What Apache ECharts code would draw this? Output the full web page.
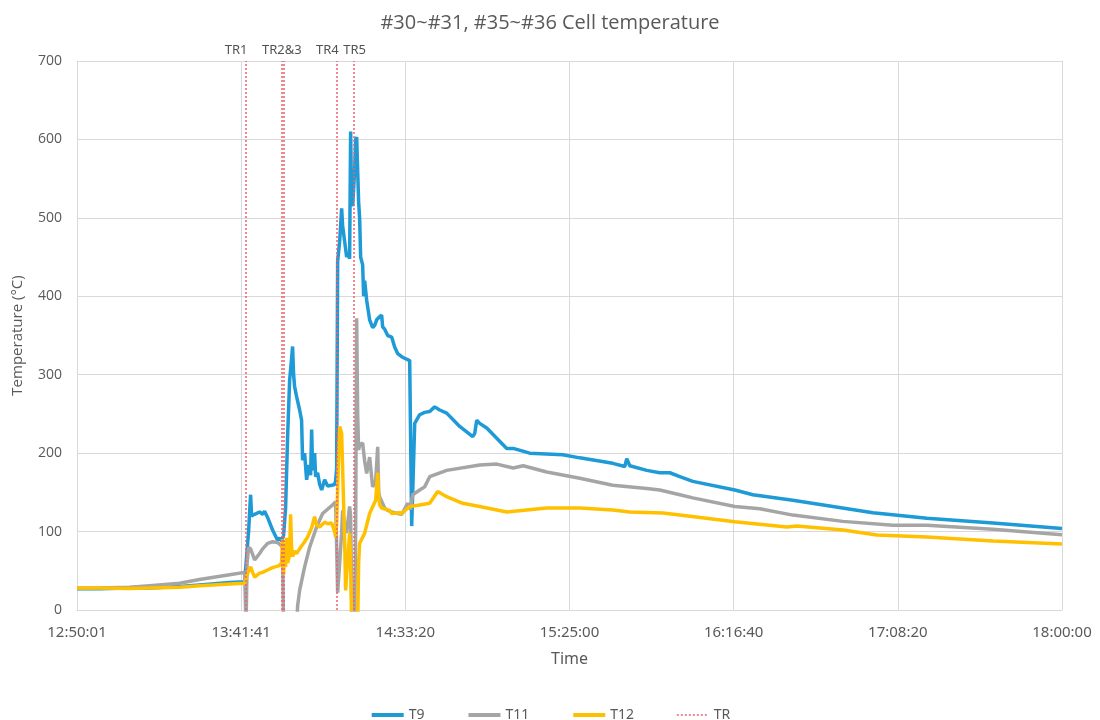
<!DOCTYPE html>
<html>
<head>
<meta charset="utf-8">
<script src="https://cdn.jsdelivr.net/npm/echarts@6/dist/echarts.min.js"></script>
<style>
  html, body { margin: 0; padding: 0; background: #ffffff; }
  #chart { width: 1100px; height: 720px; }
</style>
</head>
<body>
<div id="chart"></div>
<script>
// Elapsed time in seconds since 12:50:01, temperature in °C.
const xTickLabels = ['12:50:01', '13:41:41', '14:33:20', '15:25:00', '16:16:40', '17:08:20', '18:00:00'];

const t9 = [
  [0, 27], [425, 27], [992, 28], [1370, 28], [1937, 30], [2314, 32], [2881, 35], [3165, 36],
  [3202, 38], [3240, 100], [3278, 147], [3297, 120], [3316, 118], [3354, 122], [3391, 120],
  [3448, 125], [3505, 122], [3542, 126], [3599, 118], [3693, 102], [3788, 89], [3826, 92],
  [3863, 88], [3901, 95], [3939, 130], [3977, 221], [4015, 293], [4052, 320], [4071, 336],
  [4090, 300], [4109, 285], [4147, 272], [4204, 255], [4241, 242], [4260, 191], [4298, 200],
  [4336, 166], [4374, 185], [4411, 172], [4431, 230], [4450, 178], [4487, 200], [4506, 170],
  [4544, 175], [4582, 160], [4620, 153], [4676, 166], [4733, 158], [4809, 159], [4865, 160],
  [4884, 165], [4903, 180], [4922, 445], [4960, 470], [4997, 512], [5016, 490], [5054, 470],
  [5092, 450], [5111, 455], [5148, 448], [5167, 610], [5186, 520], [5205, 515], [5243, 560],
  [5262, 600], [5281, 603], [5300, 560], [5318, 520], [5337, 500], [5356, 450], [5394, 440],
  [5413, 400], [5432, 420], [5470, 395], [5526, 370], [5583, 360], [5621, 363], [5659, 370],
  [5715, 374], [5753, 376], [5772, 361], [5810, 358], [5867, 350], [5942, 348], [6000, 335],
  [6055, 327], [6131, 323], [6187, 321], [6282, 318], [6301, 320], [6320, 107], [6339, 150],
  [6377, 238], [6471, 249], [6565, 252], [6660, 253], [6754, 259], [6849, 255], [6981, 251],
  [7227, 234], [7472, 221], [7510, 225], [7548, 242], [7604, 238], [7737, 232], [7926, 219],
  [8115, 206], [8237, 206], [8549, 200], [9172, 198], [9494, 194], [10117, 187], [10344, 183],
  [10381, 193], [10438, 184], [10759, 178], [11005, 175], [11194, 175], [11383, 170],
  [11628, 164], [12422, 153], [12762, 147], [13518, 140], [15029, 124], [16049, 117],
  [17296, 111], [18600, 104]
];

const t11 = [
  [0, 28], [425, 28], [992, 29], [1370, 31], [1937, 34], [2314, 39], [2881, 45], [3165, 48],
  [3183, 48], [3192, -20], [3202, -20], [3212, 60], [3240, 80], [3278, 78], [3354, 64],
  [3391, 66], [3448, 72], [3505, 78], [3599, 85], [3693, 87], [3788, 86], [3826, 84],
  [3863, 82], [3882, 80], [3901, -30], [4140, -30], [4166, 5], [4204, 25], [4298, 55],
  [4393, 80], [4525, 106], [4638, 123], [4828, 134], [4884, 138], [4903, 140], [4922, 22],
  [4960, 60], [4997, 98], [5016, 127], [5054, 110], [5092, 98], [5148, 132], [5167, 120],
  [5186, 20], [5205, -20], [5243, -20], [5262, 100], [5281, 372], [5300, 250], [5318, 204],
  [5337, 210], [5394, 213], [5432, 190], [5470, 174], [5526, 195], [5583, 157], [5640, 165],
  [5678, 208], [5697, 150], [5715, 144], [5810, 130], [5867, 127], [5942, 125], [6055, 123],
  [6131, 122], [6244, 136], [6301, 128], [6320, 140], [6339, 147], [6471, 153], [6565, 157],
  [6660, 170], [6981, 178], [7604, 185], [7926, 186], [8237, 181], [8426, 184], [8870, 176],
  [9494, 168], [10117, 159], [10759, 155], [11005, 153], [11383, 147], [11628, 143],
  [12422, 132], [12894, 129], [13518, 121], [14463, 113], [15407, 108], [16049, 108],
  [17296, 103], [18600, 96]
];

const t12 = [
  [0, 28], [425, 28], [992, 27.5], [1370, 28], [1937, 29], [2314, 31], [2881, 33], [3165, 34],
  [3202, 35], [3240, 50], [3278, 55], [3316, 48], [3354, 42], [3391, 44], [3448, 47],
  [3505, 48], [3599, 51], [3693, 54], [3788, 56], [3826, 57], [3863, 60], [3882, 90],
  [3901, 45], [3920, 85], [3939, 55], [3958, 92], [3977, 60], [4015, 70], [4033, 122],
  [4052, 80], [4071, 68], [4109, 75], [4147, 72], [4204, 78], [4241, 80], [4298, 87],
  [4355, 93], [4431, 105], [4487, 119], [4525, 108], [4582, 106], [4676, 112], [4733, 110],
  [4809, 111], [4865, 100], [4884, 93], [4903, 110], [4941, 200], [4960, 234], [4997, 225],
  [5016, 180], [5054, 89], [5073, 25], [5092, 47], [5111, 60], [5148, 98], [5167, 60],
  [5186, -20], [5300, -20], [5318, 60], [5337, 85], [5432, 98], [5526, 123], [5640, 140],
  [5678, 175], [5697, 145], [5715, 134], [5753, 130], [5904, 127], [5942, 123], [6093, 124],
  [6131, 123], [6282, 132], [6471, 134], [6660, 136], [6811, 151], [6981, 144.5], [7283, 136],
  [7604, 132], [8115, 125], [8870, 130], [9494, 130], [10117, 127.5], [10438, 125],
  [11062, 123.6], [11383, 121], [12422, 112.6], [13404, 105.8], [13594, 107], [14463, 102],
  [15105, 95.6], [16049, 93], [17296, 88], [18600, 84]
];

// Thermal runaway event times and their labels
const trTimes = [3193, 3873, 3901, 4897, 5224];
const trLabelNames = ['TR1', 'TR2&3', 'TR4', 'TR5'];
const trLabelTimes = [3193, 3887, 4897, 5224];

const textGrey = '#595959';
const gridGrey = '#d9d9d9';
const labelOffsets = [-10, -1, -9, 1];
const trColor = '#ec6272';

const chart = echarts.init(document.getElementById('chart'), null, { renderer: 'canvas' });

const lineSeries = (name, data, color) => ({
  name,
  type: 'line',
  data,
  symbol: 'none',
  clip: true,
  lineStyle: { color, width: 3.5 },
  itemStyle: { color },
  z: 3
});

chart.setOption({
  animation: false,
  title: {
    text: '#30~#31, #35~#36 Cell temperature',
    left: 'center',
    top: 8,
    textStyle: { color: textGrey, fontSize: 20, fontWeight: 'normal', fontFamily: 'Open Sans' }
  },
  grid: { left: 77, right: 38, top: 61, bottom: 110 },
  legend: {
    top: 703,
    left: 'center',
    itemWidth: 32,
    itemHeight: 10,
    itemGap: 42,
    itemStyle: { opacity: 0 },
    data: [
      { name: 'T9', lineStyle: { width: 4 } },
      { name: 'T11', lineStyle: { width: 4 } },
      { name: 'T12', lineStyle: { width: 4 } },
      { name: 'TR', lineStyle: { width: 1.5 } }
    ],
    textStyle: { color: textGrey, fontSize: 14, fontFamily: 'Noto Sans' }
  },
  xAxis: {
    type: 'value',
    min: 0,
    max: 18600,
    interval: 3100,
    name: 'Time',
    nameLocation: 'middle',
    nameGap: 41,
    nameTextStyle: { color: textGrey, fontSize: 16, fontFamily: 'Noto Sans' },
    axisLine: { show: true, lineStyle: { color: gridGrey, width: 1 } },
    axisTick: { show: false },
    axisLabel: {
      color: textGrey,
      fontSize: 15,
      margin: 15,
      fontFamily: 'Noto Sans',
      formatter: (v) => xTickLabels[Math.round(v / 3100)]
    },
    splitLine: { show: true, lineStyle: { color: gridGrey, width: 1 } }
  },
  yAxis: {
    type: 'value',
    min: 0,
    max: 700,
    interval: 100,
    name: 'Temperature (°C)',
    nameLocation: 'middle',
    nameGap: 52,
    nameTextStyle: { color: textGrey, fontSize: 15, fontFamily: 'Open Sans' },
    axisLine: { show: false },
    axisTick: { show: false },
    axisLabel: { color: textGrey, fontSize: 14, margin: 15, fontFamily: 'Open Sans' },
    splitLine: { show: true, lineStyle: { color: gridGrey, width: 1 } }
  },
  series: [
    lineSeries('T9', t9, '#1e9ad6'),
    lineSeries('T11', t11, '#a5a5a5'),
    lineSeries('T12', t12, '#ffc000'),
    {
      name: 'TR',
      type: 'line',
      data: [],
      symbol: 'none',
      lineStyle: { color: trColor, width: 1.5, type: [2, 2] },
      itemStyle: { color: trColor },
      z: 4,
      markLine: {
        silent: true,
        symbol: 'none',
        label: { show: false },
        lineStyle: { color: trColor, width: 1.5, type: [2, 2] },
        data: trTimes.map((t) => ({ xAxis: t }))
      }
    },
    {
      name: 'TR labels',
      type: 'scatter',
      symbolSize: 0,
      silent: true,
      z: 5,
      data: trLabelTimes.map((t, i) => ({
        value: [t, 700],
        label: {
          show: true,
          position: 'top',
          distance: 4,
          offset: [labelOffsets[i], 0],
          formatter: trLabelNames[i],
          color: '#262626',
          fontSize: 13,
          fontFamily: 'Noto Sans'
        }
      }))
    }
  ]
});
</script>
</body>
</html>
